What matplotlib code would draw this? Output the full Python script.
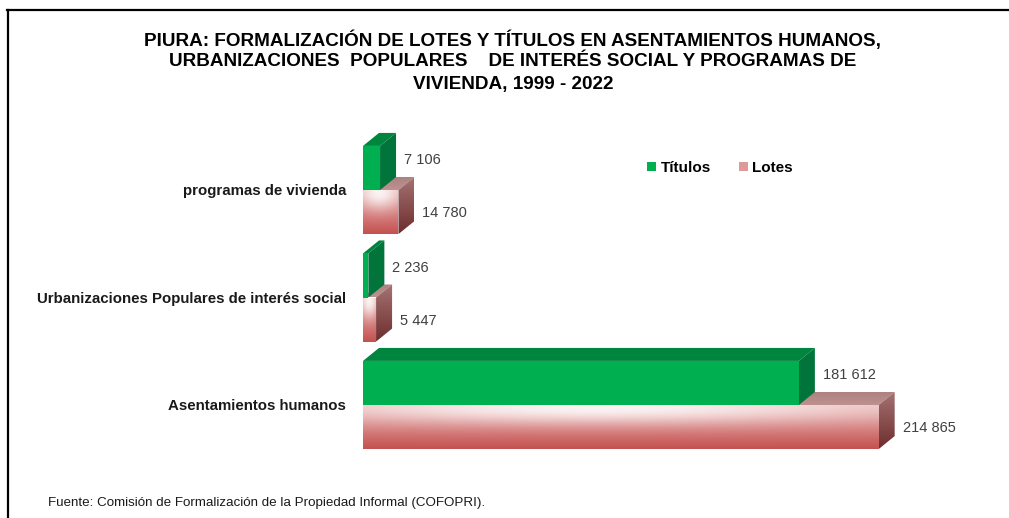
import numpy as np
import matplotlib.pyplot as plt
from matplotlib.patches import Polygon, Patch
from matplotlib.lines import Line2D

plt.rcParams['font.family'] = ['Liberation Sans', 'DejaVu Sans']

categorias = ["Asentamientos humanos",
              "Urbanizaciones Populares de interés social",
              "programas de vivienda"]
titulos = [181612, 2236, 7106]
lotes = [214865, 5447, 14780]
series = ["Títulos", "Lotes"]

titulo = ["PIURA: FORMALIZACIÓN DE LOTES Y TÍTULOS EN ASENTAMIENTOS HUMANOS,",
          "URBANIZACIONES  POPULARES    DE INTERÉS SOCIAL Y PROGRAMAS DE",
          "VIVIENDA, 1999 - 2022"]
fuente = "Fuente: Comisión de Formalización de la Propiedad Informal (COFOPRI)."

W, H = 1009, 518
fig = plt.figure(figsize=(W / 100, H / 100), dpi=100)
ax = fig.add_axes([363 / W, 1 - 469.5 / H, 600 / W, 344 / H])
XMAX = 250000
ax.set_xlim(0, XMAX)
ax.set_ylim(-0.6, 2.6)

# depth of the fake 3D boxes, given in pixels and turned into data units
DX = 16 * XMAX / 600
DY = 13 * 3.2 / 344
BAR_H = 0.41

verde = dict(front="#00b050", side="#00743a", top="#00853f")


def grad_img(c_top, c_bot, n=64, glow=None):
    t = np.linspace(0, 1, n)[:, None]
    s = np.linspace(0, 1, n)[None, :]
    c_top = np.array(c_top) / 255
    c_bot = np.array(c_bot) / 255
    img = c_top[None, None, :] * (1 - t[..., None]) + c_bot[None, None, :] * t[..., None]
    img = np.broadcast_to(img, (n, n, 3)).copy()
    if glow is not None:
        g = np.exp(-((s - 0.45) / 0.55) ** 2 - ((t - 0.08) / 0.35) ** 2)
        img = img + (1 - img) * (glow * g)[..., None]
    return np.clip(img, 0, 1)


def fill_poly(ax, pts, face, z):
    poly = Polygon(pts, closed=True, facecolor="none", edgecolor="none", zorder=z)
    ax.add_patch(poly)
    if isinstance(face, str):
        poly.set_facecolor(face)
        return
    xs, ys = zip(*pts)
    im = ax.imshow(face, extent=(min(xs), max(xs), min(ys), max(ys)),
                   aspect="auto", interpolation="bilinear", zorder=z, origin="upper")
    im.set_clip_path(poly)


def box(ax, val, y0, y1, front, side, top, z):
    fill_poly(ax, [(0, y1), (DX, y1 + DY), (val + DX, y1 + DY), (val, y1)], top, z)
    fill_poly(ax, [(val, y0), (val + DX, y0 + DY), (val + DX, y1 + DY), (val, y1)], side, z)
    fill_poly(ax, [(0, y0), (val, y0), (val, y1), (0, y1)], front, z + 0.5)


lotes_front = grad_img((232, 180, 180), (196, 82, 80), glow=0.85)
lotes_side = grad_img((165, 115, 115), (110, 45, 45))
lotes_top = grad_img((175, 130, 130), (190, 145, 145))

for i, c in enumerate(range(len(categorias))):
    box(ax, lotes[i], c - BAR_H, c, lotes_front, lotes_side, lotes_top, 2)
    box(ax, titulos[i], c, c + BAR_H, verde["front"], verde["side"], verde["top"], 4)
    lab = dict(ha="left", va="center", fontsize=10.5, color="#404040")
    ax.text(titulos[i] + DX + 8 * XMAX / 600, c + BAR_H / 2 + 0.07,
            f"{titulos[i]:,}".replace(",", " "), **lab)
    ax.text(lotes[i] + DX + 8 * XMAX / 600, c - BAR_H / 2 - 0.01,
            f"{lotes[i]:,}".replace(",", " "), **lab)

ax.set_yticks(range(len(categorias)))
ax.set_yticklabels(categorias, fontsize=10.8, fontweight="bold", color="#1a1a1a")
ax.tick_params(axis="y", length=0, pad=12)
ax.set_xticks([])
for sp in ax.spines.values():
    sp.set_visible(False)

handles = [Patch(facecolor=verde["front"], edgecolor="none"),
           Patch(facecolor="#dc9a9a", edgecolor="none")]
fig.legend(handles, series, loc="center", bbox_to_anchor=(720 / W, 1 - 168 / H),
           ncol=2, frameon=False, handlelength=0.6, handleheight=0.6,
           handletextpad=0.3, columnspacing=1.8,
           prop=dict(size=11, weight="bold"))

for k, linea in enumerate(titulo):
    fig.text(513 / W, 1 - (40 + 22 * k) / H, linea, ha="center", va="center",
             fontsize=13.6, fontweight="bold", color="black")

fig.text(48 / W, 1 - 503 / H, fuente, ha="left", va="center", fontsize=9.6, color="#1a1a1a")

# outer frame (top and left only, as in the reference)
fig.add_artist(Line2D([7 / W, 1], [1 - 9.5 / H, 1 - 9.5 / H], transform=fig.transFigure,
                      color="black", lw=1.6))
fig.add_artist(Line2D([7.5 / W, 7.5 / W], [0, 1 - 9.5 / H], transform=fig.transFigure,
                      color="black", lw=1.6))

fig.savefig("out.png", dpi=100, facecolor="white")
